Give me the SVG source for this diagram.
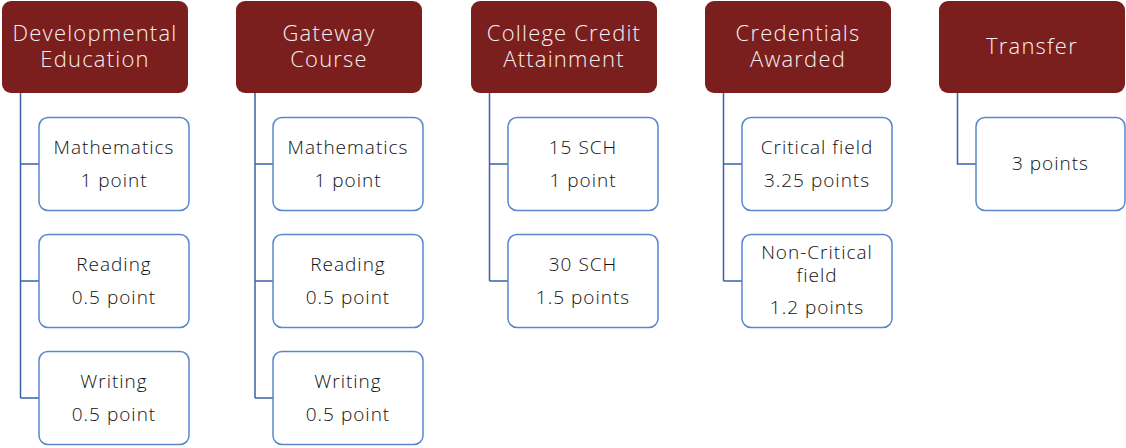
<svg xmlns="http://www.w3.org/2000/svg" width="1126" height="448" viewBox="0 0 1126 448">
<style>
.hdr{fill:#7B1F1E;}
.ht{fill:#F6F0F0;font-family:"Open Sans",Lato,sans-serif;font-weight:300;font-size:22px;letter-spacing:1.2px;text-anchor:middle;}
.box{fill:#FFFFFF;stroke:#5B86CE;stroke-width:1.5;}
.bt{fill:#111111;font-family:"Open Sans",Lato,sans-serif;font-weight:300;font-size:19px;letter-spacing:1px;text-anchor:middle;}
.con{fill:none;stroke:#3A62A8;stroke-width:1.5;}
</style>
<rect width="1126" height="448" fill="#FFFFFF"/>
<g id="connectors">
<path class="con" d="M20.5 92 V398 M20.5 164 H39 M20.5 281 H39 M20.5 398 H39"/>
<path class="con" d="M255 92 V398 M255 164 H273 M255 281 H273 M255 398 H273"/>
<path class="con" d="M489.5 92 V281 M489.5 164 H508 M489.5 281 H508"/>
<path class="con" d="M723.5 92 V281 M723.5 164 H742 M723.5 281 H742"/>
<path class="con" d="M957.5 92 V164 H976"/>
</g>
<g id="h1"><rect class="hdr" x="2" y="1" width="186" height="92" rx="9"/><text class="ht"><tspan x="95" y="41">Developmental</tspan><tspan x="95" y="67">Education</tspan></text></g>
<g id="h2"><rect class="hdr" x="236" y="1" width="186" height="92" rx="9"/><text class="ht"><tspan x="329" y="41">Gateway</tspan><tspan x="329" y="67">Course</tspan></text></g>
<g id="h3"><rect class="hdr" x="471" y="1" width="186" height="92" rx="9"/><text class="ht"><tspan x="564" y="41">College Credit</tspan><tspan x="564" y="67">Attainment</tspan></text></g>
<g id="h4"><rect class="hdr" x="705" y="1" width="186" height="92" rx="9"/><text class="ht"><tspan x="798" y="41">Credentials</tspan><tspan x="798" y="67">Awarded</tspan></text></g>
<g id="h5"><rect class="hdr" x="939" y="1" width="186" height="92" rx="9"/><text class="ht" x="1032" y="54">Transfer</text></g>

<g id="c1a"><rect class="box" x="39" y="117.5" width="150" height="93" rx="9"/><text class="bt"><tspan x="114" y="154">Mathematics</tspan><tspan x="114" y="187">1 point</tspan></text></g>
<g id="c1b"><rect class="box" x="39" y="234.5" width="150" height="93" rx="9"/><text class="bt"><tspan x="114" y="271">Reading</tspan><tspan x="114" y="304">0.5 point</tspan></text></g>
<g id="c1c"><rect class="box" x="39" y="351.5" width="150" height="93" rx="9"/><text class="bt"><tspan x="114" y="388">Writing</tspan><tspan x="114" y="421">0.5 point</tspan></text></g>

<g id="c2a"><rect class="box" x="273" y="117.5" width="150" height="93" rx="9"/><text class="bt"><tspan x="348" y="154">Mathematics</tspan><tspan x="348" y="187">1 point</tspan></text></g>
<g id="c2b"><rect class="box" x="273" y="234.5" width="150" height="93" rx="9"/><text class="bt"><tspan x="348" y="271">Reading</tspan><tspan x="348" y="304">0.5 point</tspan></text></g>
<g id="c2c"><rect class="box" x="273" y="351.5" width="150" height="93" rx="9"/><text class="bt"><tspan x="348" y="388">Writing</tspan><tspan x="348" y="421">0.5 point</tspan></text></g>

<g id="c3a"><rect class="box" x="508" y="117.5" width="150" height="93" rx="9"/><text class="bt"><tspan x="583" y="154">15 SCH</tspan><tspan x="583" y="187">1 point</tspan></text></g>
<g id="c3b"><rect class="box" x="508" y="234.5" width="150" height="93" rx="9"/><text class="bt"><tspan x="583" y="271">30 SCH</tspan><tspan x="583" y="304">1.5 points</tspan></text></g>

<g id="c4a"><rect class="box" x="742" y="117.5" width="150" height="93" rx="9"/><text class="bt"><tspan x="817" y="154">Critical field</tspan><tspan x="817" y="187">3.25 points</tspan></text></g>
<g id="c4b"><rect class="box" x="742" y="234.5" width="150" height="93" rx="9"/><text class="bt"><tspan x="817" y="259">Non-Critical</tspan><tspan x="817" y="282">field</tspan><tspan x="817" y="314">1.2 points</tspan></text></g>

<g id="c5a"><rect class="box" x="976" y="117.5" width="149" height="93" rx="9"/><text class="bt" x="1050.5" y="170">3 points</text></g>
</svg>
